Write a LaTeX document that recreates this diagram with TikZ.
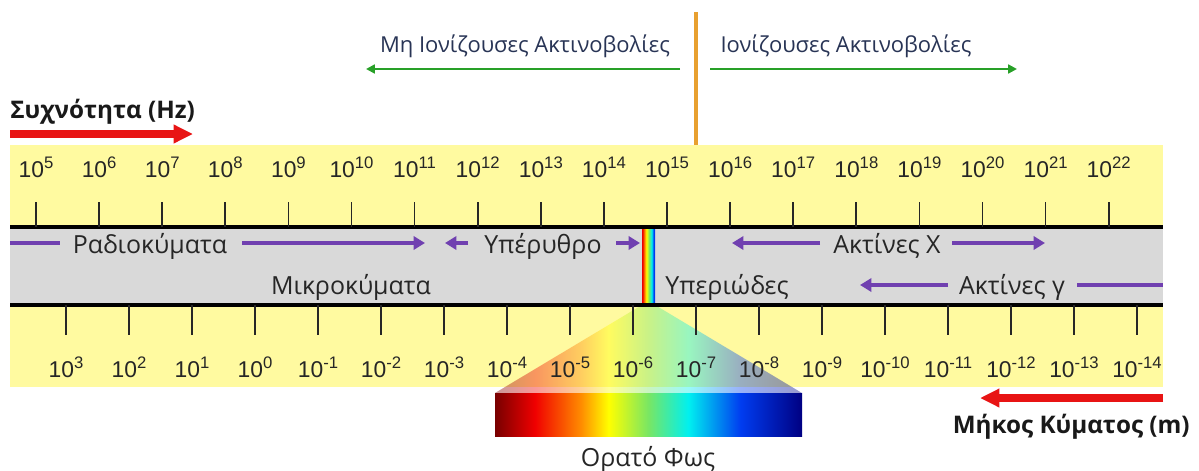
\documentclass[tikz,border=0pt]{standalone}
\usepackage{fontspec}
\setmainfont{Open Sans}
\newfontfamily\numfont{Liberation Sans}
\usetikzlibrary{arrows.meta}

\definecolor{bandyellow}{RGB}{255,250,160}
\definecolor{bandgray}{RGB}{217,217,217}
\definecolor{raypurple}{RGB}{112,64,176}
\definecolor{iongreen}{RGB}{40,160,40}
\definecolor{ionorange}{RGB}{232,160,48}
\definecolor{labelnavy}{RGB}{40,52,85}
\definecolor{axisred}{RGB}{232,20,20}
% spectrum colours
\definecolor{specdark}{RGB}{120,0,0}
\definecolor{specred}{RGB}{240,0,0}
\definecolor{specorange}{RGB}{255,140,0}
\definecolor{specyellow}{RGB}{255,255,0}
\definecolor{specgreen}{RGB}{120,230,100}
\definecolor{speccyan}{RGB}{0,240,240}
\definecolor{specblue}{RGB}{0,60,240}
\definecolor{specnavy}{RGB}{0,0,130}

\pgfdeclarehorizontalshading{visible}{100bp}{color(0bp)=(specdark); color(25bp)=(specdark);
  color(31.5bp)=(specred); color(39bp)=(specorange); color(43.5bp)=(specyellow);
  color(50bp)=(specgreen); color(56.5bp)=(speccyan); color(65bp)=(specblue);
  color(75bp)=(specnavy); color(100bp)=(specnavy)}
\pgfdeclarehorizontalshading{stripe}{100bp}{color(0bp)=(specred); color(27bp)=(specred);
  color(35bp)=(specorange); color(42bp)=(specyellow); color(52bp)=(specgreen);
  color(62bp)=(speccyan); color(70bp)=(specblue); color(100bp)=(specblue)}

% power of ten with a larger exponent
\newcommand{\tenpow}[1]{10\raisebox{5pt}{\fontsize{9.5}{10}\selectfont #1}}

\begin{document}
\begin{tikzpicture}[x=0.02cm, y=-0.02cm,
    tick/.style={line width=1pt, black!85},
    numlabel/.style={anchor=base, inner sep=0pt, text=black!85,
      font=\numfont\fontsize{13}{15}\selectfont},
    bandlabel/.style={anchor=base, inner sep=0pt, text=black!85,
      font=\fontsize{14.2}{16}\selectfont},
    toplabel/.style={anchor=base, inner sep=0pt, text=labelnavy,
      font=\fontsize{12.5}{15}\selectfont},
    axislabel/.style={inner sep=0pt, text=black!90,
      font=\bfseries\fontsize{13.8}{16}\selectfont},
    wave/.style={raypurple, line width=2.4pt, -{Triangle[length=6.5pt, width=7.5pt]}},
    waveline/.style={raypurple, line width=2.4pt},
    ionarrow/.style={iongreen, line width=1.6pt, -{Triangle[length=5pt, width=5pt]}},
    axisarrow/.style={axisred, line width=4pt, -{Triangle[length=11pt, width=10pt]}}]
    \useasboundingbox (0,0) rectangle (1199,470);

    % Scale background
    \fill[bandyellow] (10,145) rectangle (1163,227);
    \fill[bandyellow] (10,305) rectangle (1163,387);
    \fill[bandgray] (10,227) rectangle (1163,305);

    % Visible light fan and slice
    \shade[shading=visible, opacity=0.4] (642,305) -- (655,305) -- (802,393) -- (495,393) -- cycle;
    \shade[shading=stripe] (642,227) rectangle (655,305);
    \shade[shading=visible] (495,393) rectangle (802,436);
    \node[bandlabel] (light) at (648,466) {Ορατό Φως};

    % Band edges
    \draw[line width=2.6pt] (10,227) -- (1163,227);
    \draw[line width=2.6pt] (10,305) -- (1163,305);

    % Frequency axis (Hz)
    \foreach \k in {5,...,22}{
        \draw[tick] ({36+63.1*(\k-5)},202) -- ++(0,25);
        \node[numlabel] (f\k) at ({36+63.1*(\k-5)},177) {\tenpow{\k}};
    }
    % Wavelength axis (m)
    \foreach \k [count=\i from 0] in {3,2,...,-14}{
        \draw[tick] ({66+63*\i},305) -- ++(0,30);
        \node[numlabel] (w\i) at ({66+63*\i},377) {\tenpow{\k}};
    }

    % Ionising / non-ionising border
    \coordinate (borderTop) at (696,12);
    \coordinate (borderBot) at (696,145);
    \draw[ionorange, line width=2.4pt] (borderTop) -- (borderBot);
    \node[toplabel] (nonion) at (525,52) {Μη Ιονίζουσες Ακτινοβολίες};
    \node[toplabel] (ion) at (846,52) {Ιονίζουσες Ακτινοβολίες};
    \coordinate (nonionA) at (680,69);
    \coordinate (nonionB) at (366,69);
    \coordinate (ionA) at (710,69);
    \coordinate (ionB) at (1017,69);
    \draw[ionarrow] (nonionA) -- (nonionB);
    \draw[ionarrow] (ionA) -- (ionB);

    % Axis directions
    \node[axislabel, anchor=base west] (freq) at (10,118) {Συχνότητα (Hz)};
    \coordinate (freqA) at (10,134);
    \coordinate (freqB) at (193,134);
    \draw[axisarrow] (freqA) -- (freqB);
    \node[axislabel, anchor=base east] (wlen) at (1190,433) {Μήκος Κύματος (m)};
    \coordinate (wlenA) at (1163,398);
    \coordinate (wlenB) at (980,398);
    \draw[axisarrow] (wlenA) -- (wlenB);

    % Bands, upper row
    \node[bandlabel] (radio) at (150,253) {Ραδιοκύματα};
    \node[bandlabel] (ir) at (543,253) {Υπέρυθρο};
    \node[bandlabel] (xray) at (887,253) {Ακτίνες Χ};
    \coordinate (radioL) at (10,243);   \coordinate (radioA) at (60,243);
    \coordinate (radioB) at (242,243);  \coordinate (radioR) at (425,243);
    \coordinate (irA) at (468,243);     \coordinate (irL) at (445,243);
    \coordinate (irB) at (616,243);     \coordinate (irR) at (640,243);
    \coordinate (xrayA) at (820,243);   \coordinate (xrayL) at (732,243);
    \coordinate (xrayB) at (952,243);   \coordinate (xrayR) at (1045,243);
    \draw[waveline] (radioL) -- (radioA);
    \draw[wave] (radioB) -- (radioR);
    \draw[wave] (irA) -- (irL);
    \draw[wave] (irB) -- (irR);
    \draw[wave] (xrayA) -- (xrayL);
    \draw[wave] (xrayB) -- (xrayR);

    % Bands, lower row
    \node[bandlabel] (micro) at (351,294) {Μικροκύματα};
    \node[bandlabel] (uv) at (727,294) {Υπεριώδες};
    \node[bandlabel] (gamma) at (1012,294) {Ακτίνες γ};
    \coordinate (gammaA) at (948,285);  \coordinate (gammaL) at (860,285);
    \coordinate (gammaB) at (1077,285); \coordinate (gammaR) at (1163,285);
    \draw[wave] (gammaA) -- (gammaL);
    \draw[waveline] (gammaB) -- (gammaR);
\end{tikzpicture}
\end{document}
